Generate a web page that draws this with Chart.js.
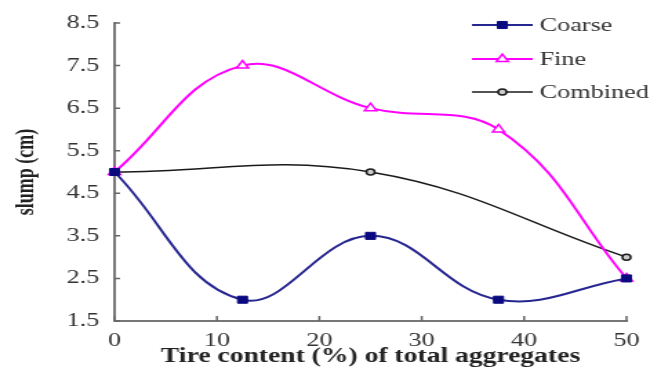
<!DOCTYPE html>
<html>
<head>
<meta charset="utf-8">
<script src="https://cdn.jsdelivr.net/npm/chart.js@4.4.1/dist/chart.umd.min.js"></script>
<style>
  html, body { margin: 0; padding: 0; background: #fff; overflow: hidden; }
  /* the original figure is stretched sideways, so draw narrow and widen it */
  #wrap { width: 474px; height: 380px; transform: scaleX(1.38); transform-origin: 0 0; }
</style>
</head>
<body>
<div id="wrap"><canvas id="slumpChart" width="474" height="380"></canvas></div>
<script>
// tire content (% of total aggregates)
var tireContent = [0, 12.5, 25, 37.5, 50];
var coarseSlump = [5.0, 2.0, 3.5, 2.0, 2.5];
var fineSlump = [5.0, 7.5, 6.5, 6.0, 2.5];
// combined only has three measured points
var combinedX = [0, 25, 50];
var combinedSlump = [5.0, 5.0, 3.0];

var xTicks = [0, 10, 20, 30, 40, 50];
var yTicks = [1.5, 2.5, 3.5, 4.5, 5.5, 6.5, 7.5, 8.5];

function toPoints(xs, ys) {
    return xs.map(function (x, i) { return { x: x, y: ys[i] }; });
}

var serif = '"Liberation Serif", "Times New Roman", serif';

// ticks pointing into the plot, like the original
var innerTicks = {
    id: 'innerTicks',
    afterDraw: function (chart) {
        var ctx = chart.ctx;
        var area = chart.chartArea;
        var xs = chart.scales.x, ys = chart.scales.y;
        ctx.save();
        ctx.strokeStyle = '#666';
        ctx.lineWidth = 1.5;
        ctx.beginPath();
        xTicks.forEach(function (v) {
            var px = xs.getPixelForValue(v);
            ctx.moveTo(px, area.bottom);
            ctx.lineTo(px, area.bottom - 5);
        });
        yTicks.forEach(function (v) {
            var py = ys.getPixelForValue(v);
            ctx.moveTo(area.left, py);
            ctx.lineTo(area.left + 4, py);
        });
        ctx.stroke();
        ctx.restore();
    }
};

// legend: line segment with the marker in the middle
var lineLegend = {
    id: 'lineLegend',
    afterDraw: function (chart) {
        var ctx = chart.ctx;
        var x0 = 342, x1 = 386, rowY = [25, 59, 92];
        ctx.save();
        chart.data.datasets.forEach(function (ds, i) {
            var y = rowY[i];
            ctx.strokeStyle = ds.borderColor;
            ctx.lineWidth = ds.borderWidth;
            ctx.beginPath();
            ctx.moveTo(x0, y);
            ctx.lineTo(x1, y);
            ctx.stroke();
            ctx.strokeStyle = ds.pointBorderColor;
            ctx.fillStyle = ds.pointBackgroundColor;
            ctx.lineWidth = ds.pointBorderWidth;
            Chart.helpers.drawPoint(ctx, {
                pointStyle: ds.pointStyle,
                radius: ds.pointRadius,
                borderWidth: ds.pointBorderWidth
            }, (x0 + x1) / 2, y);
            ctx.fillStyle = '#333';
            ctx.font = '19px ' + serif;
            ctx.textBaseline = 'middle';
            ctx.textAlign = 'left';
            ctx.fillText(ds.label, 391, y + 1);
        });
        ctx.restore();
    }
};

new Chart(document.getElementById('slumpChart').getContext('2d'), {
    type: 'line',
    data: {
        datasets: [{
            label: 'Coarse',
            data: toPoints(tireContent, coarseSlump),
            borderColor: '#262690',
            backgroundColor: '#0a0a80',
            pointBorderColor: '#0a0a80',
            pointBackgroundColor: '#0a0a80',
            borderWidth: 2,
            pointStyle: 'rect',
            pointRadius: 5,
            pointBorderWidth: 1,
            tension: 0.4,
            order: 1
        }, {
            label: 'Fine',
            data: toPoints(tireContent, fineSlump),
            borderColor: '#ff00ff',
            backgroundColor: '#ffffff',
            pointBorderColor: '#ff00ff',
            pointBackgroundColor: '#ffffff',
            borderWidth: 2,
            pointStyle: 'triangle',
            pointRadius: 5,
            pointBorderWidth: 1.5,
            tension: 0.4,
            order: 2
        }, {
            label: 'Combined',
            data: toPoints(combinedX, combinedSlump),
            borderColor: '#1a1a1a',
            backgroundColor: '#cccccc',
            pointBorderColor: '#1a1a1a',
            pointBackgroundColor: '#cccccc',
            borderWidth: 1.5,
            pointStyle: 'circle',
            pointRadius: 3,
            pointBorderWidth: 1.5,
            tension: 0.4,
            order: 3
        }]
    },
    options: {
        responsive: false,
        animation: false,
        clip: false,
        layout: { padding: { top: 23, right: 20, left: 0, bottom: 0 } },
        plugins: {
            legend: { display: false },
            tooltip: { enabled: false }
        },
        scales: {
            x: {
                type: 'linear',
                min: 0,
                max: 50,
                afterFit: function (scale) { scale.height = 380 - 321; },
                afterBuildTicks: function (scale) {
                    scale.ticks = xTicks.map(function (v) { return { value: v }; });
                },
                grid: { display: false, drawTicks: false },
                border: { display: true, color: '#777', width: 2 },
                ticks: {
                    padding: 9,
                    color: '#333',
                    font: { family: serif, size: 19 }
                },
                title: {
                    display: true,
                    text: 'Tire content (%) of total aggregates',
                    color: '#222',
                    font: { family: serif, size: 20, weight: 'bold' },
                    padding: { top: 0, bottom: 11 }
                }
            },
            y: {
                min: 1.5,
                max: 8.5,
                afterFit: function (scale) { scale.width = 83; },
                afterBuildTicks: function (scale) {
                    scale.ticks = yTicks.map(function (v) { return { value: v }; });
                },
                grid: { display: false, drawTicks: false },
                border: { display: true, color: '#777', width: 2 },
                ticks: {
                    padding: 11,
                    color: '#333',
                    font: { family: serif, size: 19 },
                    callback: function (v) { return Number(v).toFixed(1); }
                },
                title: {
                    display: true,
                    text: 'slump (cm)',
                    color: '#222',
                    font: { family: serif, size: 18, weight: 'bold' },
                    padding: { top: 9, bottom: 0 }
                }
            }
        }
    },
    plugins: [innerTicks, lineLegend]
});
</script>
</body>
</html>
